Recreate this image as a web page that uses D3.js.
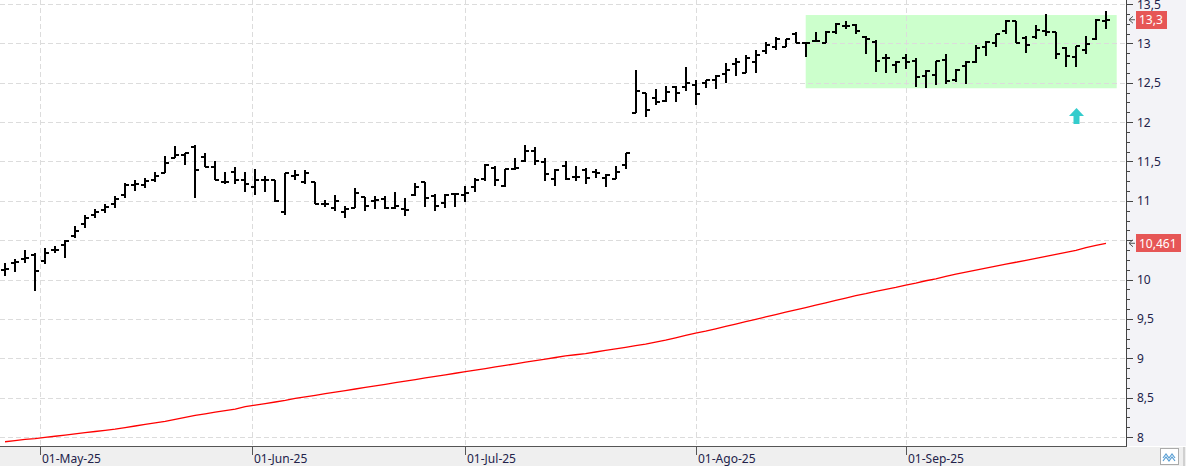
<!DOCTYPE html>
<html>
<head>
<meta charset="utf-8">
<script src="https://cdn.jsdelivr.net/npm/d3@7"></script>
<style>
  html, body { margin: 0; padding: 0; background: #fff; }
  svg { display: block; font-family: "Noto Sans", sans-serif; }
</style>
</head>
<body>
<svg id="chart" width="1186" height="468"></svg>
<script>
// OHLC values, one per trading session (25-Apr-25 .. 29-Sep-25)
const opens = [
  10.12, 10.21, 10.26, 10.31, 10.24, 10.37, 10.44, 10.55, 10.70, 10.82,
  10.88, 10.96, 11.08, 11.20, 11.20, 11.27, 11.35, 11.54, 11.58, 11.69,
  11.56, 11.43, 11.24, 11.36, 11.27, 11.17, 11.26, 11.26, 10.86, 11.32,
  11.24, 11.24, 10.96, 10.91, 10.86, 10.91, 11.05, 11.00, 11.02, 10.91,
  10.90, 11.08, 11.24, 11.06, 10.97, 11.09, 11.07, 11.18, 11.28, 11.42,
  11.19, 11.41, 11.50, 11.63, 11.49, 11.28, 11.44, 11.30, 11.39, 11.37,
  11.29, 11.28, 11.46, 12.12, 12.37, 12.30, 12.27, 12.45, 12.45, 12.47,
  12.50, 12.54, 12.61, 12.74, 12.62, 12.76, 12.90, 12.95, 12.96, 13.12,
  13.01, 13.03, 13.01, 13.14, 13.22, 13.23, 13.08, 13.02, 12.82, 12.73,
  12.81, 12.78, 12.59, 12.60, 12.79, 12.54, 12.71, 12.76, 12.96, 13.01,
  13.16, 13.28, 13.07, 13.08, 13.16, 13.14, 12.94, 12.83, 12.91, 13.05,
  13.29
];
const highs = [
  10.21, 10.26, 10.38, 10.34, 10.40, 10.43, 10.50, 10.68, 10.82, 10.90,
  10.96, 11.06, 11.23, 11.26, 11.29, 11.36, 11.57, 11.70, 11.61, 11.71,
  11.61, 11.50, 11.36, 11.43, 11.36, 11.40, 11.31, 11.26, 11.35, 11.39,
  11.39, 11.24, 11.01, 11.07, 10.94, 11.16, 11.05, 11.06, 11.06, 11.11,
  11.03, 11.23, 11.24, 11.09, 11.09, 11.09, 11.19, 11.29, 11.47, 11.44,
  11.40, 11.55, 11.71, 11.69, 11.54, 11.40, 11.51, 11.44, 11.42, 11.40,
  11.34, 11.44, 11.61, 12.66, 12.37, 12.42, 12.46, 12.46, 12.70, 12.53,
  12.53, 12.60, 12.75, 12.81, 12.85, 12.91, 13.02, 13.08, 13.05, 13.14,
  13.01, 13.14, 13.16, 13.26, 13.28, 13.25, 13.09, 13.04, 12.87, 12.77,
  12.87, 12.81, 12.66, 12.78, 12.87, 12.68, 12.77, 12.98, 13.03, 13.12,
  13.30, 13.28, 13.09, 13.23, 13.37, 13.14, 12.95, 12.97, 13.09, 13.31,
  13.41
];
const lows = [
  10.04, 10.10, 10.21, 9.85, 10.20, 10.34, 10.27, 10.53, 10.66, 10.78,
  10.84, 10.91, 11.03, 11.13, 11.16, 11.24, 11.35, 11.54, 11.46, 11.03,
  11.43, 11.27, 11.21, 11.21, 11.11, 11.08, 11.11, 10.98, 10.82, 11.27,
  11.22, 10.96, 10.92, 10.87, 10.78, 10.91, 10.87, 10.89, 10.89, 10.90,
  10.81, 11.06, 10.92, 10.87, 10.91, 10.92, 10.99, 11.11, 11.25, 11.19,
  11.18, 11.39, 11.49, 11.46, 11.25, 11.19, 11.27, 11.25, 11.22, 11.29,
  11.17, 11.28, 11.40, 12.11, 12.07, 12.22, 12.25, 12.26, 12.40, 12.22,
  12.43, 12.42, 12.50, 12.59, 12.62, 12.62, 12.86, 12.91, 12.95, 13.01,
  12.83, 13.02, 13.01, 13.12, 13.18, 13.12, 12.87, 12.64, 12.63, 12.62,
  12.67, 12.44, 12.43, 12.47, 12.49, 12.51, 12.49, 12.75, 12.84, 12.96,
  13.12, 13.01, 12.88, 13.05, 13.10, 12.80, 12.70, 12.70, 12.86, 13.04,
  13.18
];
const closes = [
  10.13, 10.22, 10.28, 10.11, 10.34, 10.38, 10.49, 10.62, 10.78, 10.86,
  10.92, 11.02, 11.20, 11.22, 11.25, 11.31, 11.48, 11.58, 11.61, 11.39,
  11.43, 11.27, 11.24, 11.27, 11.21, 11.27, 11.26, 11.00, 11.35, 11.33,
  11.35, 10.96, 10.96, 11.00, 10.89, 11.10, 10.94, 11.01, 10.91, 10.94,
  10.88, 11.18, 11.03, 10.94, 11.08, 11.09, 11.10, 11.26, 11.46, 11.26,
  11.40, 11.42, 11.63, 11.50, 11.34, 11.39, 11.28, 11.30, 11.29, 11.35,
  11.33, 11.37, 11.61, 12.40, 12.16, 12.25, 12.38, 12.37, 12.50, 12.36,
  12.53, 12.58, 12.66, 12.76, 12.81, 12.85, 12.98, 13.05, 13.05, 13.01,
  13.01, 13.03, 13.15, 13.24, 13.22, 13.16, 13.05, 12.78, 12.82, 12.76,
  12.76, 12.57, 12.65, 12.78, 12.52, 12.66, 12.76, 12.94, 13.02, 13.12,
  13.28, 13.01, 12.98, 13.17, 13.15, 12.87, 12.84, 12.97, 12.99, 13.30,
  13.30
];
// long moving average (red line)
const movingAvg = [
  7.940, 7.955, 7.970, 7.980, 7.995, 8.010, 8.025, 8.040, 8.055, 8.070,
  8.085, 8.100, 8.120, 8.140, 8.160, 8.180, 8.200, 8.225, 8.250, 8.275,
  8.295, 8.315, 8.335, 8.355, 8.385, 8.405, 8.425, 8.445, 8.465, 8.490,
  8.510, 8.530, 8.550, 8.570, 8.590, 8.610, 8.630, 8.650, 8.670, 8.690,
  8.710, 8.730, 8.750, 8.770, 8.790, 8.810, 8.830, 8.850, 8.870, 8.890,
  8.910, 8.930, 8.950, 8.970, 8.990, 9.010, 9.030, 9.045, 9.060, 9.080,
  9.100, 9.120, 9.140, 9.160, 9.180, 9.205, 9.230, 9.260, 9.290, 9.320,
  9.345, 9.375, 9.405, 9.435, 9.465, 9.495, 9.525, 9.555, 9.585, 9.615,
  9.645, 9.675, 9.705, 9.735, 9.765, 9.795, 9.820, 9.850, 9.875, 9.900,
  9.930, 9.955, 9.985, 10.010, 10.040, 10.070, 10.095, 10.120, 10.145, 10.170,
  10.195, 10.220, 10.245, 10.270, 10.295, 10.320, 10.345, 10.370, 10.405, 10.435,
  10.461
];

const yTicks = [8, 8.5, 9, 9.5, 10, 10.5, 11, 11.5, 12, 12.5, 13, 13.5];
const monthNames = ['Ene', 'Feb', 'Mar', 'Abr', 'May', 'Jun', 'Jul', 'Ago', 'Sep', 'Oct', 'Nov', 'Dic'];
const monthStarts = ['2025-05-01', '2025-06-01', '2025-07-01', '2025-08-01', '2025-09-01'];
const holidays = ['2025-05-01'];
const firstSession = '2025-04-25';

// highlighted zone and signal arrow (session index / price)
const zone = { from: 80, to: 111.07, top: 13.36, bottom: 12.43 };
const signal = { index: 107, value: 12.18 };

const W = 1186, H = 468;
const plotW = 1126, plotH = 446;

// trading calendar: weekdays from the first session, skipping holidays
const parseDay = d3.utcParse('%Y-%m-%d');
const fmtDay = d3.utcFormat('%Y-%m-%d');
const sessions = [];
for (let d = parseDay(firstSession); sessions.length < closes.length; d = d3.utcDay.offset(d, 1)) {
  const wd = d.getUTCDay();
  if (wd === 0 || wd === 6 || holidays.includes(fmtDay(d))) continue;
  sessions.push(d);
}

// fractional session position of a calendar date
function sessionPos(date) {
  const i = d3.bisectRight(sessions, date) - 1;
  if (+sessions[i] === +date || i === sessions.length - 1) return i;
  const span = sessions[i + 1] - sessions[i];
  return i + (date - sessions[i]) / span;
}

const x = d3.scaleLinear().domain([-0.5, 112]).range([0, plotW]);
const y = d3.scaleLinear().domain([7.886, 13.551]).range([plotH, 0]);

const svg = d3.select('#chart');
const commaFmt = (v) => String(v).replace('.', ',');

// backgrounds
svg.append('rect').attr('width', W).attr('height', H).attr('fill', '#fff');
svg.append('rect')
  .attr('x', plotW + 1).attr('y', 0)
  .attr('width', W - plotW - 1).attr('height', plotH)
  .attr('fill', '#f3f3f7');
svg.append('rect')
  .attr('x', 0).attr('y', plotH + 1)
  .attr('width', W).attr('height', 19)
  .attr('fill', '#efefef');

const plot = svg.append('g');

// green zone
plot.append('rect')
  .attr('x', x(zone.from))
  .attr('y', y(zone.top))
  .attr('width', x(zone.to) - x(zone.from))
  .attr('height', y(zone.bottom) - y(zone.top))
  .attr('fill', '#ccffcc');

// grid
const monthPos = monthStarts.map((m) => ({ date: parseDay(m), pos: sessionPos(parseDay(m)) }));
plot.selectAll('.hgrid')
  .data(yTicks)
  .enter()
  .append('line')
  .attr('x1', 0).attr('x2', plotW)
  .attr('y1', (d) => Math.round(y(d)) + 0.5)
  .attr('y2', (d) => Math.round(y(d)) + 0.5)
  .attr('stroke', '#dcdcdc')
  .attr('stroke-dasharray', '5,3');
plot.selectAll('.vgrid')
  .data(monthPos)
  .enter()
  .append('line')
  .attr('x1', (d) => Math.round(x(d.pos)) + 0.5)
  .attr('x2', (d) => Math.round(x(d.pos)) + 0.5)
  .attr('y1', 0).attr('y2', plotH)
  .attr('stroke', '#dcdcdc')
  .attr('stroke-dasharray', '5,3');

// moving average
plot.append('path')
  .datum(movingAvg)
  .attr('d', d3.line().x((d, i) => x(i)).y((d) => y(d)))
  .attr('fill', 'none')
  .attr('stroke', '#ff0000')
  .attr('stroke-width', 1.3);

// OHLC bars
const bars = plot.selectAll('.bar')
  .data(closes.map((c, i) => ({ i, o: opens[i], h: highs[i], l: lows[i], c })))
  .enter()
  .append('g')
  .attr('shape-rendering', 'crispEdges')
  .attr('fill', '#000');
bars.append('rect')
  .attr('x', (d) => Math.round(x(d.i)) - 1)
  .attr('y', (d) => Math.round(y(d.h)))
  .attr('width', 2)
  .attr('height', (d) => Math.max(2, Math.round(y(d.l)) - Math.round(y(d.h))));
bars.append('rect')
  .attr('x', (d) => Math.round(x(d.i)) - 4)
  .attr('y', (d) => Math.round(y(d.o)) - 1)
  .attr('width', 4).attr('height', 2);
bars.append('rect')
  .attr('x', (d) => Math.round(x(d.i)))
  .attr('y', (d) => Math.round(y(d.c)) - 1)
  .attr('width', 4).attr('height', 2);

// signal arrow
const ax = Math.round(x(signal.index)) + 0.5;
const ay = y(signal.value);
plot.append('path')
  .attr('d', `M${ax},${ay} L${ax + 7.5},${ay + 8} L${ax + 3},${ay + 8} L${ax + 3},${ay + 16} L${ax - 3},${ay + 16} L${ax - 3},${ay + 8} L${ax - 7.5},${ay + 8} Z`)
  .attr('fill', '#33cccc');

// last value tags (price and moving average)
const tags = [
  { v: closes[closes.length - 1], label: commaFmt(closes[closes.length - 1]) },
  { v: movingAvg[movingAvg.length - 1], label: commaFmt(movingAvg[movingAvg.length - 1]) }
];

// right axis
const yAxisG = svg.append('g').attr('shape-rendering', 'crispEdges');
yAxisG.append('line')
  .attr('x1', plotW + 0.5).attr('x2', plotW + 0.5)
  .attr('y1', 0).attr('y2', plotH)
  .attr('stroke', '#444');
const minorTicks = d3.range(8, 13.6, 0.125).filter((v) => y(v) > 0);
yAxisG.selectAll('.minor')
  .data(minorTicks)
  .enter()
  .append('line')
  .attr('x1', plotW).attr('x2', (d) => (Math.abs(d * 2 - Math.round(d * 2)) < 1e-6 ? plotW + 7 : plotW + 4))
  .attr('y1', (d) => Math.round(y(d)) + 0.5)
  .attr('y2', (d) => Math.round(y(d)) + 0.5)
  .attr('stroke', '#444');
// labels hidden where a value tag sits on top of them
svg.selectAll('.ylab')
  .data(yTicks.filter((v) => tags.every((t) => Math.abs(y(t.v) - y(v)) > 9)))
  .enter()
  .append('text')
  .attr('x', plotW + 11)
  .attr('y', (d) => y(d) + 4.5)
  .attr('font-size', 12)
  .attr('fill', '#22224a')
  .text((d) => commaFmt(d));

// bottom axis
const xAxisG = svg.append('g').attr('shape-rendering', 'crispEdges');
xAxisG.append('line')
  .attr('x1', 0).attr('x2', plotW + 1)
  .attr('y1', plotH + 0.5).attr('y2', plotH + 0.5)
  .attr('stroke', '#555');
xAxisG.selectAll('.xtick')
  .data(monthPos)
  .enter()
  .append('line')
  .attr('x1', (d) => Math.round(x(d.pos)) + 0.5)
  .attr('x2', (d) => Math.round(x(d.pos)) + 0.5)
  .attr('y1', plotH).attr('y2', plotH + 9)
  .attr('stroke', '#555');
svg.selectAll('.xlab')
  .data(monthPos)
  .enter()
  .append('text')
  .attr('x', (d) => Math.round(x(d.pos)) + 2)
  .attr('y', 462.5)
  .attr('font-size', 12)
  .attr('fill', '#22224a')
  .text((d) => `${d3.utcFormat('%d')(d.date)}-${monthNames[d.date.getUTCMonth()]}-${d3.utcFormat('%y')(d.date)}`);

tags.forEach((t) => {
  const ty = y(t.v);
  svg.append('path')
    .attr('d', `M${plotW + 7},${ty - 3.5} L${plotW + 3},${ty} L${plotW + 7},${ty + 3.5} M${plotW + 3},${ty} L${plotW + 9},${ty}`)
    .attr('fill', 'none')
    .attr('stroke', '#555');
  const txt = svg.append('text')
    .attr('x', plotW + 13)
    .attr('y', ty + 4.5)
    .attr('font-size', 12)
    .attr('fill', '#fff')
    .text(t.label);
  const bw = txt.node().getComputedTextLength();
  svg.insert('rect', () => txt.node())
    .attr('x', plotW + 10).attr('y', Math.round(ty) - 9)
    .attr('width', Math.round(bw) + 7).attr('height', 18)
    .attr('fill', '#e65656');
});

// small chart-type button bottom right
svg.append('rect')
  .attr('x', 1160.5).attr('y', 448.5).attr('width', 18).attr('height', 16)
  .attr('fill', '#fff').attr('stroke', '#aaa');
svg.append('path')
  .attr('d', 'M1163,458 l3,-4 l3,4 l3,-4 l3,4 M1163,461 l3,-4 l3,4 l3,-4 l3,4')
  .attr('fill', 'none').attr('stroke', '#5a9fd4').attr('stroke-width', 1.2);
svg.append('rect')
  .attr('x', 1183).attr('y', plotH + 1).attr('width', 2).attr('height', 19)
  .attr('fill', '#d0d0d0');
</script>
</body>
</html>
